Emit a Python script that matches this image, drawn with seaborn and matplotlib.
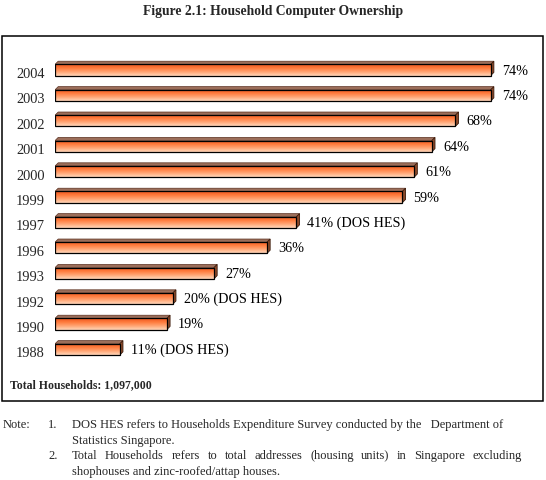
import numpy as np
import pandas as pd
import matplotlib.pyplot as plt
import seaborn as sns
from matplotlib.colors import LinearSegmentedColormap
from matplotlib.patches import Polygon, Rectangle

years = ['2004', '2003', '2002', '2001', '2000', '1999', '1997', '1996', '1993', '1992', '1990', '1988']
ownership = [74, 74, 68, 64, 61, 59, 41, 36, 27, 20, 19, 11]
source_notes = ['', '', '', '', '', '', ' (DOS HES)', '', '', ' (DOS HES)', '', ' (DOS HES)']

df = pd.DataFrame({'year': years, 'pct': ownership})

sns.set_style('white')
plt.rcParams['font.family'] = ['Liberation Serif', 'DejaVu Serif']

W, H = 546, 481
fig = plt.figure(figsize=(W / 100, H / 100), dpi=100)

# axes placed so that 0% sits at x=55px, rows ~25.4px apart
ax_left, ax_right = 55, 526
ax_top, ax_bot = 58.3, 363.1
ax = fig.add_axes([ax_left / W, 1 - ax_bot / H, (ax_right - ax_left) / W, (ax_bot - ax_top) / H])

bar_h = 0.44
sns.barplot(data=df, x='pct', y='year', order=years, orient='h', width=bar_h,
            color='#ff8040', edgecolor='black', linewidth=0.9, ax=ax, zorder=3)
ax.set_xlim(0, 80)
ax.set_ylim(len(years) - 0.5, -0.5)

px_x = (ax_right - ax_left) / 80.0
px_y = (ax_bot - ax_top) / len(years)
dx = 3.2 / px_x
dy = 3.2 / px_y

grad = LinearSegmentedColormap.from_list('bar', ['#ea5620', '#ff7a3c', '#ffa675', '#ffd6ba'])
gimg = np.linspace(0, 1, 64).reshape(-1, 1)

for p in ax.patches:
    x0, y0 = p.get_x(), p.get_y()
    w, h = p.get_width(), p.get_height()
    # gradient fill, dark on top
    im = ax.imshow(gimg, cmap=grad, aspect='auto', extent=(x0, x0 + w, y0 + h, y0),
                   zorder=3.5, interpolation='bilinear')
    im.set_clip_path(p)
    p.set_facecolor('none')
    p.set_zorder(4)
    # top face
    top = Polygon([(x0, y0), (x0 + dx, y0 - dy), (x0 + w + dx, y0 - dy), (x0 + w, y0)],
                  closed=True, facecolor='#9c6e5a', edgecolor='#5a3020', linewidth=0.5, zorder=3)
    ax.add_patch(top)
    # right side face
    side = Polygon([(x0 + w, y0), (x0 + w + dx, y0 - dy), (x0 + w + dx, y0 + h - dy), (x0 + w, y0 + h)],
                   closed=True, facecolor='#8b4a2b', edgecolor='#3a1a0a', linewidth=0.6, zorder=3)
    ax.add_patch(side)

labels = [f'{v}%{s}' for v, s in zip(ownership, source_notes)]
ax.bar_label(ax.containers[0], labels=labels, padding=8, fontsize=10.2, color='black', zorder=5)

ax.set_xlabel('')
ax.set_ylabel('')
ax.set_xticks([])
ax.set_yticks([])
# year labels sit a little below the bar centres in the original
for i, yr in enumerate(years):
    ax.annotate(yr, xy=(0, i), xycoords=('axes fraction', 'data'), xytext=(-7.5, -2.5),
                textcoords='offset points', ha='right', va='center', fontsize=10.4)
sns.despine(ax=ax, left=True, bottom=True)
ax.patch.set_alpha(0)

# outer frame around the chart
fig.patches.append(Rectangle((1.5 / W, 1 - 401.5 / H), 541.5 / W, 364.5 / H, transform=fig.transFigure,
                             fill=False, edgecolor='black', linewidth=1.1))

fig.text(0.5, 1 - 12 / H, 'Figure 2.1: Household Computer Ownership', ha='center', va='center',
         fontsize=9.8, fontweight='bold')
fig.text(9.5 / W, 1 - 385 / H, 'Total Households: 1,097,000', ha='left', va='center',
         fontsize=8.5, fontweight='bold')

note_fs = 9
fig.text(3 / W, 1 - 425 / H, 'Note:', ha='left', va='center', fontsize=note_fs)
fig.text(48 / W, 1 - 425 / H, '1.', ha='left', va='center', fontsize=note_fs)
fig.text(72 / W, 1 - 425 / H, 'DOS HES refers to Households Expenditure Survey conducted by the   Department of',
         ha='left', va='center', fontsize=note_fs)
fig.text(72 / W, 1 - 441 / H, 'Statistics Singapore.', ha='left', va='center', fontsize=note_fs)
fig.text(48 / W, 1 - 456.5 / H, '2.', ha='left', va='center', fontsize=note_fs)
fig.text(72 / W, 1 - 472 / H, 'shophouses and zinc-roofed/attap houses.', ha='left', va='center', fontsize=note_fs)

# justified line: spread the words between x=72 and x=522
just_words = 'Total Households refers to total addresses (housing units) in Singapore excluding'.split()
renderer = fig.canvas.get_renderer()
word_texts = [fig.text(0, 1 - 456.5 / H, wd, ha='left', va='center', fontsize=note_fs) for wd in just_words]
widths = [t.get_window_extent(renderer).width for t in word_texts]
gap = (522 - 72 - sum(widths)) / (len(just_words) - 1)
xpos = 72
for t, wpx in zip(word_texts, widths):
    t.set_x(xpos / W)
    xpos += wpx + gap

fig.savefig('out.png', dpi=100)
